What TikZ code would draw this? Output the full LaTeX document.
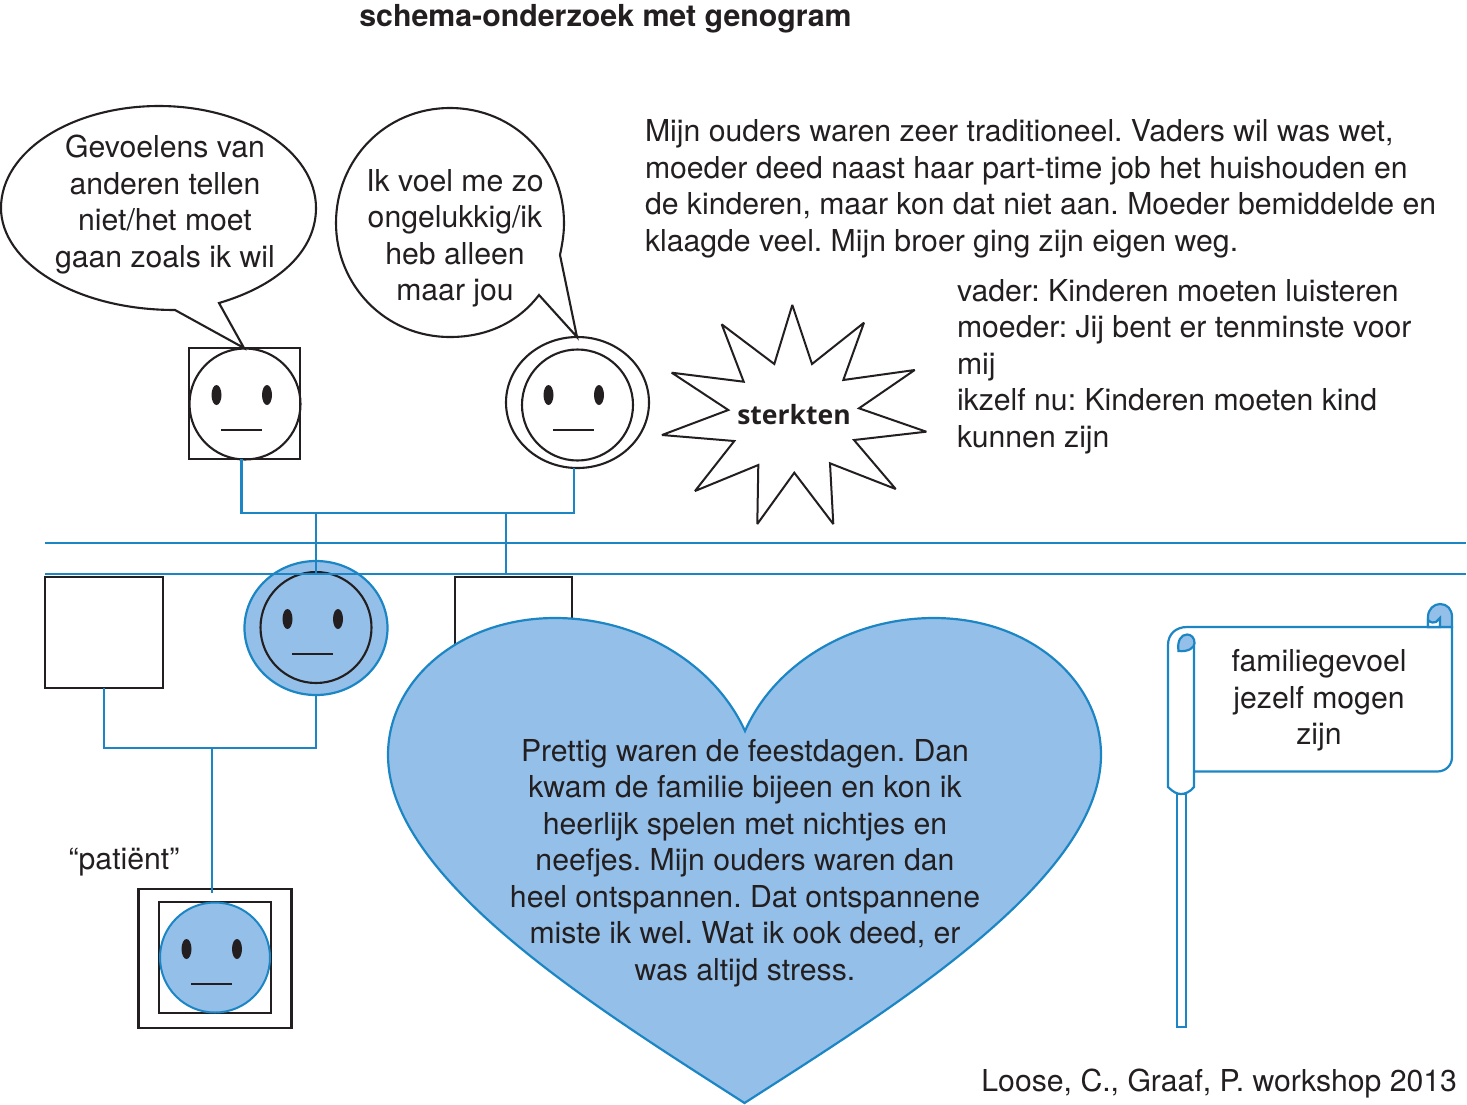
\documentclass[tikz,border=0pt]{standalone}
\usepackage{fontspec}
\usetikzlibrary{shapes.geometric}
\setmainfont{TeX Gyre Heros}
\newfontfamily\starfont{Open Sans}
\definecolor{lineblue}{HTML}{1C86C4}
\definecolor{fillblue}{HTML}{93BFE8}
\definecolor{ink}{HTML}{231F20}
\tikzset{
  x=1pt,y=-1pt,
  every node/.style={text=ink,inner sep=0pt,outer sep=0pt},
  body/.style={font=\fontsize{30.2}{36.5}\selectfont\frenchspacing},
  centered/.style={body,align=center},
  leftblock/.style={body,align=left,anchor=west},
  ink line/.style={draw=ink,line width=2pt},
  thin ink/.style={draw=ink,line width=2.1pt},
  blue line/.style={draw=lineblue,line width=2.2pt},
  facenode/.style={ellipse,minimum width=#1,minimum height=#1},
  boxnode/.style 2 args={rectangle,minimum width=#1,minimum height=#2},
}
\newcommand{\featuresat}[2]{% centre of the face
  \fill[ink] (#1-28.5,#2-9) ellipse [x radius=5pt,y radius=10pt];
  \fill[ink] (#1+22,#2-9) ellipse [x radius=5pt,y radius=10pt];
  \draw[ink,line width=2pt] (#1-24,#2+26) -- (#1+17,#2+26);
}
\begin{document}
\begin{tikzpicture}
\useasboundingbox (0,0) rectangle (1467,1104);
% title
\node[font=\fontsize{30.3}{36}\selectfont\bfseries] (title) at (605.5,19) {schema-onderzoek met genogram};
% speech bubbles
\draw[thin ink,fill=white] (219,303) .. controls (280,285) and (316,250) .. (316,208)
  .. controls (316,151) and (245,106) .. (159,106)
  .. controls (72,106) and (1,151) .. (1,208)
  .. controls (1,262) and (75,310) .. (175,310) -- (244,348) -- cycle;
\node[centered] (b1) at (165,204.5) {Gevoelens van\\anderen tellen\\niet/het moet\\gaan zoals ik wil};
\draw[thin ink,fill=white] (539,295) .. controls (520,320) and (490,337) .. (450,337)
  .. controls (385,337) and (336,285) .. (336,223)
  .. controls (336,160) and (385,108) .. (450,108)
  .. controls (515,108) and (564,160) .. (564,223)
  .. controls (564,235) and (562,245) .. (560,255) -- (577,337) -- cycle;
\node[centered] (b2) at (455,238.5) {Ik voel me zo\\ongelukkig/ik\\heb alleen\\maar jou};
% parents
\node[boxnode={111pt}{111pt},thin ink] (fatherbox) at (244.5,403.5) {};
\node[facenode=111pt,thin ink] (father) at (245,404) {};
\featuresat{245}{404}
\node[ellipse,minimum width=143pt,minimum height=131pt,thin ink] (motherout) at (577.5,402.5) {};
\node[facenode=111pt,thin ink] (mother) at (577.5,405) {};
\featuresat{577}{404}
% star
\draw[ink line,line join=miter,miter limit=3,fill=white] (792.3,305) -- (812,364) -- (864,322.7) -- (843.3,380) -- (914.7,370)
  -- (859,408.3) -- (926.3,431.7) -- (854,440) -- (895.7,489) -- (830,463.3) -- (833.3,524)
  -- (794.3,472.7) -- (757.3,524) -- (758.3,465) -- (695,491) -- (734.3,441) -- (662,435)
  -- (728.3,410) -- (671.7,372.7) -- (743.7,381.7) -- (721.7,324.3) -- (774.3,364) -- cycle;
\node[font=\fontsize{26.5}{30}\selectfont\starfont\bfseries] (star) at (794,415) {sterkten};
% generation
\node[boxnode={118pt}{111pt},thin ink] (brother) at (104,632.5) {};
\node[boxnode={117pt}{111pt},thin ink] (sibling) at (513.5,632.5) {};
\node[ellipse,minimum width=143pt,minimum height=134pt,blue line,fill=fillblue] (partnerout) at (316,628) {};
\node[facenode=111pt,thin ink] (partner) at (316,627.5) {};
\featuresat{316}{628}
% lines between generations
\coordinate (left1) at (45,543);
\coordinate (right1) at (1466,543);
\coordinate (left2) at (45,574);
\coordinate (right2) at (1466,574);
\draw[blue line] (left1) -- (right1);
\draw[blue line] (left2) -- (right2);
\coordinate (fatherfoot) at (241.5,459);
\coordinate (motherfoot) at (574,468);
\coordinate (barl) at (241.5,513);
\coordinate (barr) at (574,513);
\coordinate (drop1) at (316,513);
\coordinate (drop1end) at (316,573);
\coordinate (drop2) at (506,513);
\coordinate (drop2end) at (506,574);
\draw[blue line] (fatherfoot) -- (barl) -- (barr) -- (motherfoot);
\draw[blue line] (drop1) -- (drop1end);
\draw[blue line] (drop2) -- (drop2end);
% patient
\node[boxnode={153pt}{139pt},draw=ink,line width=2.5pt] (patout) at (215,958.5) {};
\node[boxnode={112pt}{111pt},draw=ink,line width=2.5pt] (patin) at (215,957.5) {};
\node[facenode=110pt,draw=lineblue,line width=2pt,fill=fillblue] (patient) at (215,957.5) {};
\featuresat{215}{958}
\node[body] (patlabel) at (124,862.5) {“patiënt”};
\coordinate (brotherfoot) at (104,688);
\coordinate (bl) at (104,748);
\coordinate (br) at (316,748);
\coordinate (bj) at (212,748);
\coordinate (patienttop) at (212,893);
\draw[blue line] (brotherfoot) -- (bl) -- (br) -- (partnerout.south);
\draw[blue line] (bj) -- (patienttop);
% heart
\draw[blue line,fill=fillblue] (745,731) .. controls (715,665) and (640,618) .. (555,618)
  .. controls (460,618) and (388,680) .. (388,755)
  .. controls (388,880) and (600,1010) .. (744.5,1103)
  .. controls (889,1010) and (1101,880) .. (1101,755)
  .. controls (1101,680) and (1029,618) .. (934,618)
  .. controls (849,618) and (774,665) .. (745,731) -- cycle;
\node[centered] (hearttext) at (745,863) {Prettig waren de feestdagen. Dan\\kwam de familie bijeen en kon ik\\heerlijk spelen met nichtjes en\\neefjes. Mijn ouders waren dan\\heel ontspannen. Dat ontspannene\\miste ik wel. Wat ik ook deed, er\\was altijd stress.};
% flag
\draw[blue line,fill=white] (1177,794) rectangle (1186,1027);
\draw[blue line,fill=white] (1194,771.5) -- (1437,771.5) .. controls (1446,771.5) and (1452,765) .. (1452,757) -- (1452,627) -- (1187,627)
  .. controls (1176,627) and (1168,634) .. (1168,645) -- (1168,787) .. controls (1173,792) and (1177,794) .. (1181,794)
  .. controls (1185,794) and (1190,792) .. (1194,787) -- (1194,643) ;
\draw[blue line,fill=fillblue] (1178.5,651) .. controls (1177,641) and (1181,634.5) .. (1187,634.5) .. controls (1191.5,634.5) and (1194.5,638) .. (1194.5,643)
  .. controls (1194.5,648) and (1188,652) .. (1178.5,651) -- cycle;
\draw[blue line,fill=fillblue] (1428,627) -- (1428,617) .. controls (1428,609) and (1434,604) .. (1440,604)
  .. controls (1447,604) and (1452,609) .. (1452,617) -- (1452,627) -- cycle;
\draw[blue line,fill=white] (1428,627) -- (1428,620) .. controls (1431,623) and (1434,623) .. (1436,622)
  -- (1440,618) -- (1440,627) -- cycle;
\node[centered] (flagtext) at (1319,700.5) {familiegevoel\\jezelf mogen\\zijn};
% texts
\node[leftblock] (story) at (645,189) {Mijn ouders waren zeer traditioneel. Vaders wil was wet,\\moeder deed naast haar part-time job het huishouden en\\de kinderen, maar kon dat niet aan. Moeder bemiddelde en\\klaagde veel. Mijn broer ging zijn eigen weg.};
\node[leftblock] (rules) at (957,366.5) {vader: Kinderen moeten luisteren\\moeder: Jij bent er tenminste voor\\mij\\ikzelf nu: Kinderen moeten kind\\kunnen zijn};
\node[body,anchor=east] (credit) at (1457,1083.5) {Loose, C., Graaf, P. workshop 2013};
\end{tikzpicture}
\end{document}
